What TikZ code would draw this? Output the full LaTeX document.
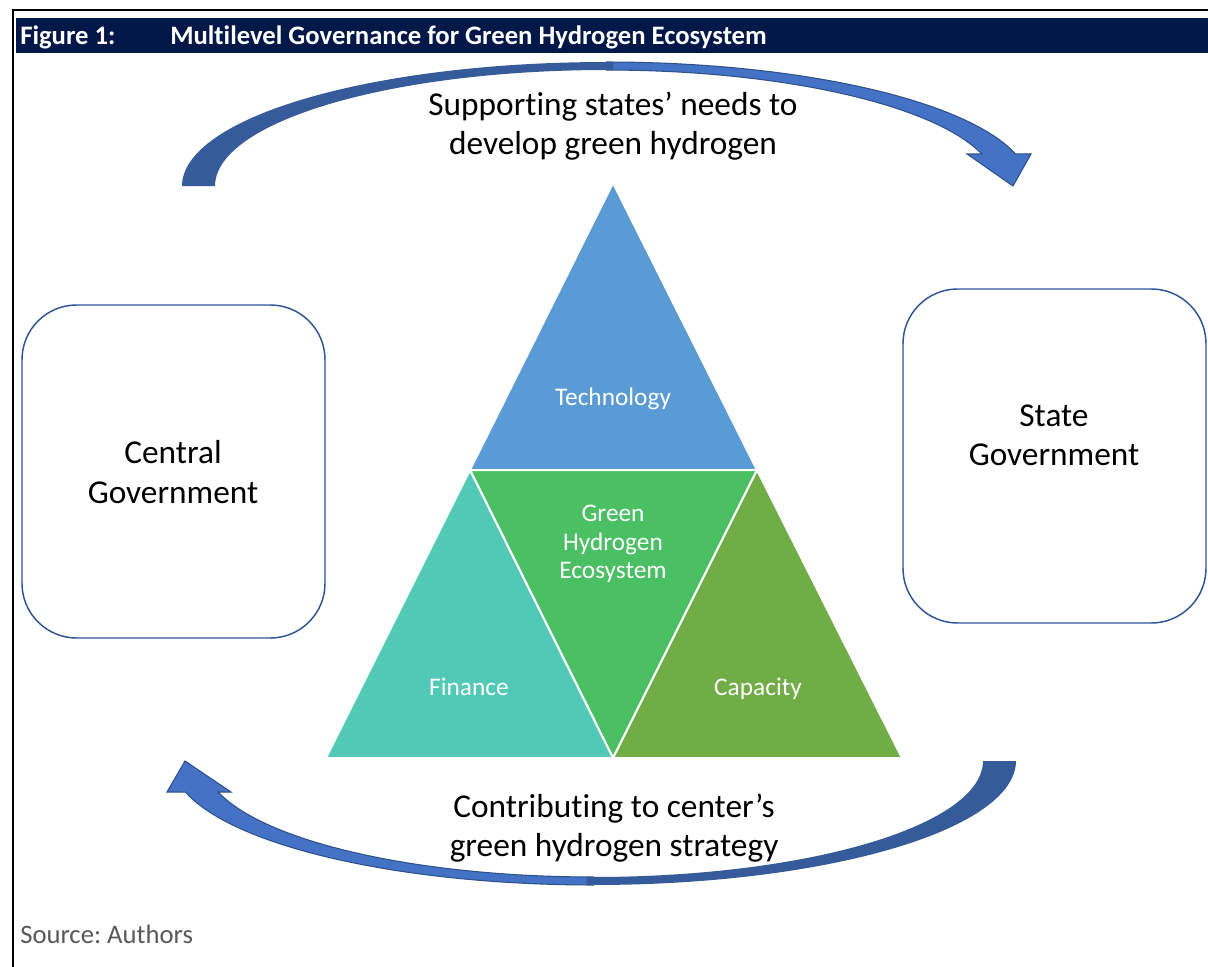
\documentclass[tikz,border=0pt]{standalone}
\usepackage{fontspec}
\setmainfont{Carlito}[Ligatures=NoCommon]
\frenchspacing
\definecolor{headnavy}{RGB}{2,24,72}
\definecolor{boxline}{RGB}{47,85,151}
\definecolor{arrowdark}{RGB}{53,91,155}
\definecolor{arrowlight}{RGB}{68,114,196}
\definecolor{arrowedge}{RGB}{47,82,143}
\definecolor{techblue}{RGB}{91,155,213}
\definecolor{finteal}{RGB}{82,201,182}
\definecolor{ecogreen}{RGB}{74,191,99}
\definecolor{capgreen}{RGB}{112,173,71}
\definecolor{srcgray}{RGB}{89,89,89}
\begin{document}
\begin{tikzpicture}[x=0.75pt,y=-0.75pt,
  headtext/.style={text=white,font=\fontsize{20}{24}\selectfont\bfseries,inner sep=0pt},
  govbox/.style={draw=boxline,line width=1.1pt,rounded corners=41pt,fill=white},
  govtext/.style={align=center,font=\fontsize{25}{29.5}\selectfont,inner sep=0pt},
  captext/.style={align=center,font=\fontsize{25}{29.5}\selectfont,inner sep=0pt},
  piece/.style={draw=white,line width=1.5pt,line join=round},
  piecetext/.style={text=white,align=center,font=\fontsize{19}{21.2}\selectfont,inner sep=0pt},
  darkband/.style={fill=arrowdark},
  lightband/.style={fill=arrowlight},
  bandedge/.style={draw=arrowedge,line width=0.8pt,line join=miter}]

\useasboundingbox (0,0) rectangle (1208,967);
\fill[white] (0,0) rectangle (1208,967);

% page frame and heading bar
\draw[black,line width=1.6pt] (12,10) -- (1208,10);
\draw[black,line width=1.6pt] (13,10) -- (13,967);
\fill[headnavy] (16,18) rectangle (1208,53);
\node[headtext,anchor=base west] (fignum) at (20,44) {Figure 1:};
\node[headtext,anchor=base west] (figtitle) at (170,44) {Multilevel Governance for Green Hydrogen Ecosystem};

% the two levels of government
\draw[govbox] (22,305) rectangle (325,638);
\node[govtext] (central) at (173,472) {Central\\Government};
\draw[govbox] (903,289) rectangle (1206,623);
\node[govtext] (state) at (1054,435) {State\\Government};

% the ecosystem triangle
\filldraw[piece,fill=techblue] (613,183) -- (757,470) -- (470,470) -- cycle;
\filldraw[piece,fill=ecogreen] (470,470) -- (757,470) -- (613,758) -- cycle;
\filldraw[piece,fill=finteal] (470,470) -- (613,758) -- (326,758) -- cycle;
\filldraw[piece,fill=capgreen] (757,470) -- (902,758) -- (613,758) -- cycle;
\node[piecetext,anchor=base] (tech) at (613,405) {Technology};
\node[piecetext] (eco) at (613,544) {Green\\Hydrogen\\Ecosystem};
\node[piecetext,anchor=base] (fin) at (469,695) {Finance};
\node[piecetext,anchor=base] (cap) at (758,695) {Capacity};

% upper curved arrow: centre to states (front half with head, then back half)
\path[lightband]
  plot[domain=90:15,samples=40] ({606+424*cos(\x)},{186-124*sin(\x)})
  -- (1031,154) -- (1013,186) -- (967,154)
  -- plot[domain=16:90,samples=40] ({606+391*cos(\x)},{186-116*sin(\x)}) -- cycle;
\path[bandedge]
  plot[domain=90:15,samples=40] ({606+424*cos(\x)},{186-124*sin(\x)})
  -- (1031,154) -- (1013,186) -- (967,154)
  -- plot[domain=16:90,samples=40] ({606+391*cos(\x)},{186-116*sin(\x)});
\path[darkband]
  plot[domain=180:89,samples=50] ({606+424*cos(\x)},{186-124*sin(\x)})
  -- plot[domain=89:180,samples=50] ({606+391*cos(\x)},{186-116*sin(\x)}) -- cycle;
\node[captext] (support) at (613,126) {Supporting states’ needs to\\develop green hydrogen};

% lower curved arrow: states to centre
\path[lightband]
  plot[domain=90:165.5,samples=40] ({594+422*cos(\x)},{761+124*sin(\x)})
  -- (167,792) -- (185,761) -- (231,792)
  -- plot[domain=164.5:90,samples=40] ({593.5+389.5*cos(\x)},{761+116*sin(\x)}) -- cycle;
\path[bandedge]
  plot[domain=90:165.5,samples=40] ({594+422*cos(\x)},{761+124*sin(\x)})
  -- (167,792) -- (185,761) -- (231,792)
  -- plot[domain=164.5:90,samples=40] ({593.5+389.5*cos(\x)},{761+116*sin(\x)});
\path[darkband]
  plot[domain=0:91,samples=50] ({594+422*cos(\x)},{761+124*sin(\x)})
  -- plot[domain=91:0,samples=50] ({593.5+389.5*cos(\x)},{761+116*sin(\x)}) -- cycle;
\node[captext] (contrib) at (614,828) {Contributing to center’s\\green hydrogen strategy};

% source line
\node[anchor=base west,inner sep=0pt,text=srcgray,font=\fontsize{20}{24}\selectfont] (source) at (20,943) {Source: Authors};
\end{tikzpicture}
\end{document}
